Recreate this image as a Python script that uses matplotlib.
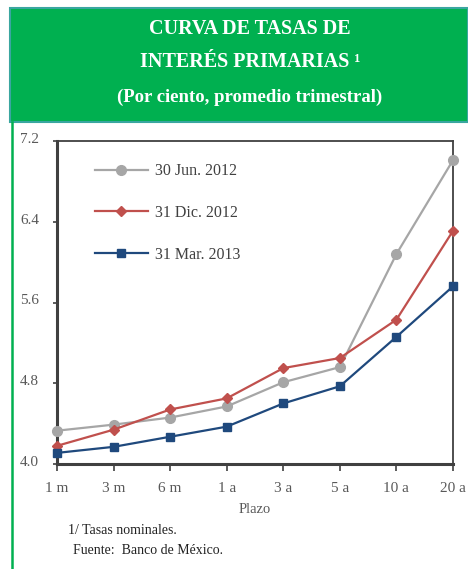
import matplotlib
matplotlib.use("Agg")
import matplotlib.pyplot as plt
from matplotlib.patches import Rectangle
from matplotlib.lines import Line2D
import matplotlib.transforms as mtransforms

categories = ["1 m", "3 m", "6 m", "1 a", "3 a", "5 a", "10 a", "20 a"]
jun_2012 = [4.33, 4.39, 4.46, 4.57, 4.81, 4.96, 6.08, 7.01]
dic_2012 = [4.18, 4.34, 4.54, 4.65, 4.95, 5.05, 5.43, 6.31]
mar_2013 = [4.11, 4.17, 4.27, 4.37, 4.60, 4.77, 5.26, 5.76]
series_labels = ["30 Jun. 2012", "31 Dic. 2012", "31 Mar. 2013"]
yticks = [4.0, 4.8, 5.6, 6.4, 7.2]

plt.rcParams['font.family'] = ['Liberation Serif', 'DejaVu Serif']

W, H = 468, 569
fig = plt.figure(figsize=(W/100, H/100), dpi=100)

# header box
fig.patches.append(Rectangle((10/W, 1-122/H), 1-10/W, 114/H, transform=fig.transFigure,
                             facecolor="#00B050", edgecolor="#3AA6A0", linewidth=1.5, zorder=0))
# left green border
fig.add_artist(Line2D([11.5/W, 11.5/W], [0, 1-122/H], transform=fig.transFigure,
                      color="#00B050", linewidth=1.8))

hx = 250/W
fig.text(hx, 1-29/H, "CURVA DE TASAS DE", ha="center", va="center", color="white",
         fontsize=14.5, fontweight="bold")
fig.text(hx, 1-62/H, "INTERÉS PRIMARIAS ¹", ha="center", va="center", color="white",
         fontsize=14.5, fontweight="bold")
fig.text(hx, 1-97/H, "(Por ciento, promedio trimestral)", ha="center", va="center", color="white",
         fontsize=13.5, fontweight="bold")

ax = fig.add_axes([57/W, 1-464/H, (453-57)/W, (464-141)/H])
x = list(range(len(categories)))
ax.plot(x, jun_2012, color="#A6A6A6", marker="o", markersize=7, linewidth=1.6, label=series_labels[0], clip_on=False, zorder=3)
ax.plot(x, dic_2012, color="#C0504D", marker="D", markersize=5.5, linewidth=1.6, label=series_labels[1], clip_on=False, zorder=4)
ax.plot(x, mar_2013, color="#1F497D", marker="s", markersize=6, linewidth=1.6, label=series_labels[2], clip_on=False, zorder=5)

ax.set_xlim(0, len(categories)-1)
ax.set_ylim(4.0, 7.2)
ax.set_xticks(x)
ax.set_xticklabels(categories)
ax.set_yticks(yticks)
ax.set_yticklabels([f"{v:.1f}" for v in yticks])
ax.tick_params(axis="x", direction="out", length=5, width=1.2, color="#404040",
               labelsize=11, labelcolor="#595959", pad=8)
ax.tick_params(axis="y", direction="out", length=3, width=1.2, color="#404040",
               labelsize=11, labelcolor="#595959", pad=10)
off = mtransforms.ScaledTranslation(0, 3/100, fig.dpi_scale_trans)
for lbl in ax.get_yticklabels():
    lbl.set_transform(lbl.get_transform() + off)
for s in ["left", "bottom"]:
    ax.spines[s].set_linewidth(2.2)
    ax.spines[s].set_color("#404040")
for s in ["top", "right"]:
    ax.spines[s].set_linewidth(1.3)
    ax.spines[s].set_color("#404040")

ax.set_xlabel("Plazo", fontsize=10.5, color="#595959", labelpad=6)

leg = ax.legend(loc="upper left", bbox_to_anchor=(0.06, 0.975), frameon=False, fontsize=11.5,
                handlelength=3.3, labelspacing=1.6, handletextpad=0.45)
for t in leg.get_texts():
    t.set_color("#404040")

fig.text(68/W, 1-531/H, "1/ Tasas nominales.", fontsize=10, color="#222222", va="center")
fig.text(73/W, 1-551/H, "Fuente:  Banco de México.", fontsize=10, color="#222222", va="center")

fig.savefig("out.png", dpi=100, facecolor="white")
